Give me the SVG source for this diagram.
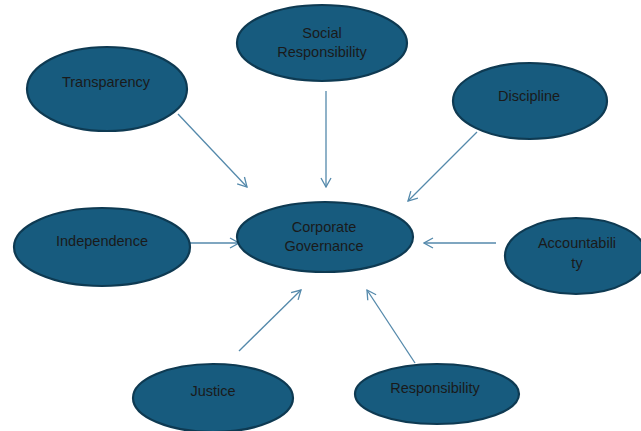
<svg xmlns="http://www.w3.org/2000/svg" width="641" height="431" viewBox="0 0 641 431">
<defs>
<style>
.node ellipse{fill:#175b7e;stroke:#0e3a52;stroke-width:2.2}
.node text{font-family:"Liberation Sans",Arial,sans-serif;font-size:14.5px;fill:#1a1a1a;text-anchor:middle}
.conn line{stroke:#5489ab;stroke-width:1.3;marker-end:url(#arr)}
</style>
<marker id="arr" viewBox="0 0 12 12" refX="11" refY="6" markerWidth="12" markerHeight="12" markerUnits="userSpaceOnUse" orient="auto">
<path d="M2,1 L11,6 L2,11" fill="none" stroke="#5489ab" stroke-width="1.3"/>
</marker>
</defs>
<rect width="641" height="431" fill="#ffffff"/>
<g id="connectors" class="conn">
<line x1="178" y1="114" x2="247" y2="187"/>
<line x1="326" y1="91" x2="326" y2="187"/>
<line x1="477" y1="132" x2="408" y2="201"/>
<line x1="190" y1="243" x2="239" y2="243"/>
<line x1="496" y1="243" x2="424" y2="243"/>
<line x1="239" y1="351" x2="301" y2="290"/>
<line x1="415" y1="363" x2="367" y2="290"/>
</g>
<g id="social" class="node"><ellipse cx="322" cy="43" rx="85" ry="38"/><text x="322" y="38">Social</text><text x="322" y="57">Responsibility</text></g>
<g id="transparency" class="node"><ellipse cx="107" cy="89" rx="80" ry="42"/><text x="106" y="87">Transparency</text></g>
<g id="discipline" class="node"><ellipse cx="530" cy="101" rx="77" ry="38"/><text x="529" y="101">Discipline</text></g>
<g id="corporate" class="node"><ellipse cx="325" cy="237" rx="88" ry="35"/><text x="324" y="232">Corporate</text><text x="324" y="251">Governance</text></g>
<g id="independence" class="node"><ellipse cx="102" cy="247" rx="88" ry="39"/><text x="102" y="246">Independence</text></g>
<g id="accountability" class="node"><ellipse cx="576" cy="256" rx="71" ry="38"/><text x="577" y="248">Accountabili</text><text x="577" y="268">ty</text></g>
<g id="justice" class="node"><ellipse cx="213" cy="398" rx="80" ry="34"/><text x="213" y="396">Justice</text></g>
<g id="responsibility" class="node"><ellipse cx="437" cy="394" rx="82" ry="30"/><text x="435" y="393">Responsibility</text></g>
</svg>
